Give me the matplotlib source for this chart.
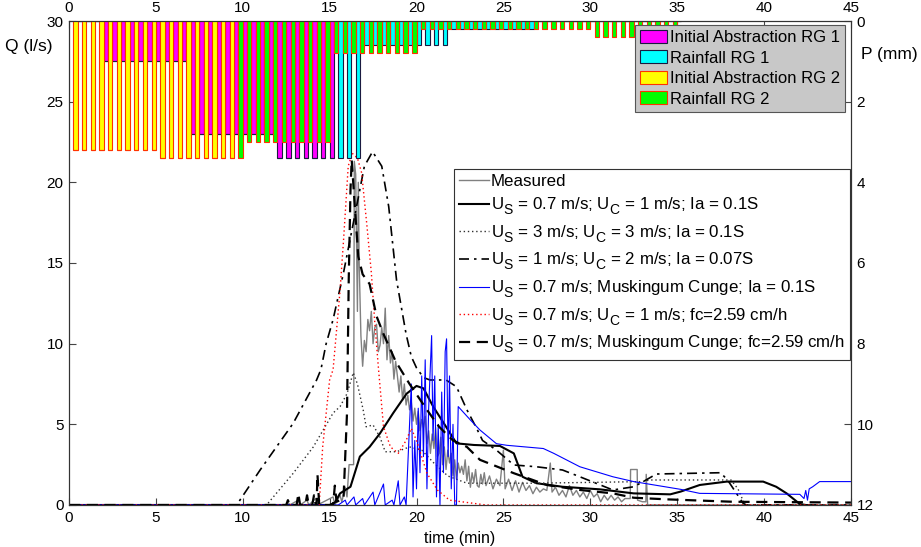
import numpy as np
import matplotlib
matplotlib.use("Agg")
import matplotlib.pyplot as plt
import matplotlib._mathtext as mtext

plt.rcParams['font.family'] = 'Liberation Sans'
plt.rcParams['mathtext.fontset'] = 'custom'
plt.rcParams['mathtext.rm'] = 'Liberation Sans'
plt.rcParams['mathtext.it'] = 'Liberation Sans'
# bigger, lower subscripts like the original
try:
    mtext.SHRINK_FACTOR = 0.82
    mtext.FontConstantsBase.sub1 = 0.6
except Exception:
    pass

# ---- rainfall (P, mm) per 0.5 min step, two rain gauges ----
step_end = np.arange(0.5, 35.5, 0.5)   # 70 steps
ia_rg1 = [0, 0, 0, 1.0, 1.0, 1.0, 1.0, 1.0, 1.0, 1.0,
          1.0, 1.0, 1.0, 2.8, 2.8, 2.8, 2.8, 2.8, 2.8, 2.8,
          2.8, 2.8, 2.8, 3.4, 3.4, 3.4, 3.4, 3.4, 3.4, 3.4,
          0, 0, 0, 0, 0, 0, 0, 0, 0, 0,
          0, 0, 0, 0, 0, 0, 0, 0, 0, 0,
          0, 0, 0, 0, 0, 0, 0, 0, 0, 0,
          0, 0, 0, 0, 0, 0, 0, 0, 0, 0]
rain_rg1 = [0, 0, 0, 0, 0, 0, 0, 0, 0, 0,
            0, 0, 0, 0, 0, 0, 0, 0, 0, 0,
            0, 0, 0, 0, 0, 0, 0, 0, 0, 0,
            3.4, 3.4, 3.4, 0.6, 0.6, 0.6, 0.6, 0.6, 0.6, 0.6,
            0.6, 0.6, 0.6, 0.2, 0.2, 0.2, 0.2, 0.2, 0.2, 0.2,
            0.2, 0.2, 0.2, 0, 0, 0, 0, 0, 0, 0,
            0, 0, 0, 0, 0, 0, 0, 0, 0, 0]
ia_rg2 = [3.2, 3.2, 3.2, 3.2, 3.2, 3.2, 3.2, 3.2, 3.2, 3.2,
          3.4, 3.4, 3.4, 3.4, 3.4, 3.4, 3.4, 3.4, 3.4, 0,
          0, 0, 0, 0, 0, 0, 0, 0, 0, 0,
          0, 0, 0, 0, 0, 0, 0, 0, 0, 0,
          0, 0, 0, 0, 0, 0, 0, 0, 0, 0,
          0, 0, 0, 0, 0, 0, 0, 0, 0, 0,
          0, 0, 0, 0, 0, 0, 0, 0, 0, 0]
rain_rg2 = [0, 0, 0, 0, 0, 0, 0, 0, 0, 0,
            0, 0, 0, 0, 0, 0, 0, 0, 0, 3.4,
            3.0, 3.0, 3.0, 3.0, 3.0, 3.0, 3.0, 3.0, 3.0, 3.0,
            0.8, 0.8, 0.8, 0.8, 0.8, 0.8, 0.8, 0.8, 0.8, 0.8,
            0.2, 0.2, 0.2, 0.2, 0.2, 0.2, 0.2, 0.2, 0.2, 0.2,
            0.2, 0.2, 0.2, 0.2, 0.2, 0.2, 0.2, 0.2, 0.2, 0.2,
            0.4, 0.4, 0.4, 0.4, 0.4, 0.4, 0.4, 0.4, 0.4, 0.4]

# ---- discharge (Q, l/s) ----
t_meas = [0, 12.5, 12.6, 12.7, 13.2, 13.3, 13.7, 13.8, 14.2, 14.3, 15.2, 15.3, 15.6, 15.7,
          15.9, 16.0, 16.12, 16.38, 16.42, 16.5, 16.6, 16.65, 16.7, 16.8, 16.9, 17.0,
          17.1, 17.2, 17.3, 17.4, 17.5, 17.6, 17.7, 17.8, 17.9, 18.0, 18.1, 18.2, 18.3,
          18.4, 18.5, 18.6, 18.7, 18.8, 18.9, 19.0, 19.1, 19.2, 19.3, 19.4, 19.5, 19.6,
          19.7, 19.8, 19.9, 20.0, 20.1, 20.2, 20.3, 20.4, 20.5, 20.6, 20.7, 20.8, 20.9,
          21.0, 21.1, 21.2, 21.3, 21.4, 21.5, 21.6, 21.7, 21.8, 21.9, 22.0, 22.1, 22.2,
          22.3, 22.4, 22.5, 22.6, 22.7, 22.8, 22.9, 23.0, 23.1, 23.2, 23.3, 23.4, 23.5,
          23.6, 23.7, 23.8, 23.9, 24.0, 24.2, 24.4, 24.6, 24.8, 25.0, 25.1, 25.3, 25.5,
          25.7, 25.9, 26.1, 26.3, 26.5, 26.7, 26.9, 27.1, 27.3, 27.5, 27.7, 27.8, 28.0,
          28.2, 28.4, 28.6, 28.8, 29.0, 29.2, 29.4, 29.6, 29.8, 30.0, 30.2, 30.4, 30.6,
          30.8, 31.0, 31.2, 31.4, 31.6, 31.8, 32.0, 32.3, 32.32, 32.7, 32.72, 33.0, 33.2,
          33.22, 33.3, 45]
q_meas = [0, 0, 0.2, 0, 0.3, 0, 0.3, 0, 0.4, 0, 0.5, 0, 0.6, 0.2,
          1.1, 0.5, 2.5, 2.5, 21.3, 20.5, 12.0, 20.0, 15.0, 10.5, 8.6, 10.2,
          9.5, 11.5, 10.8, 12.0, 10.0, 11.0, 11.2, 9.5, 9.9, 11.0, 10.0, 12.2, 9.0,
          10.5, 8.8, 9.5, 7.8, 8.9, 8.0, 7.0, 8.0, 6.5, 7.5, 6.2, 6.8, 5.9,
          6.4, 5.2, 6.0, 5.0, 5.8, 4.6, 5.3, 4.8, 5.5, 3.8, 4.6, 3.2, 4.4,
          3.5, 4.8, 3.0, 3.2, 4.2, 2.5, 3.6, 2.2, 3.4, 2.6, 3.2, 1.8, 2.8,
          1.6, 2.6, 2.0, 2.4, 1.9, 2.8, 1.5, 2.4, 1.1, 2.0, 1.4, 2.2, 1.2,
          1.1, 1.9, 1.3, 2.0, 1.2, 1.8, 1.0, 1.6, 1.2, 3.4, 1.0, 1.6, 0.9,
          1.5, 0.8, 1.4, 0.9, 1.2, 0.7, 1.1, 0.8, 1.0, 0.9, 2.6, 0.8, 1.1,
          0.6, 0.9, 0.5, 1.2, 0.6, 0.9, 0.5, 0.8, 0.4, 0.9, 0.5, 0.7, 0.2,
          0.6, 0.3, 0.6, 0.3, 0.5, 0.2, 0.4, 0.4, 2.2, 2.2, 0.3, 0.2, 0.2,
          1.9, 0, 0]

t_s1 = [0, 15.0, 15.3, 15.6, 16.2, 16.74, 17.3, 17.9, 18.66, 19.43, 20.0, 20.4, 20.96,
        21.7, 22.3, 23.3, 24.8, 25.6, 26.1, 26.9, 28.4, 30.55, 32.5, 34.6, 35.2, 36.3,
        37.85, 39.95, 40.7, 41.3, 42.06, 42.4]
q_s1 = [0, 0, 0.15, 0.72, 1.13, 3.0, 3.6, 4.44, 5.7, 6.9, 7.38, 7.23, 6.1,
        4.85, 3.82, 3.72, 3.66, 3.2, 1.75, 1.35, 1.13, 0.97, 0.72, 0.66, 0.83, 1.24,
        1.45, 1.45, 1.13, 0.72, 0.06, 0]

t_s2 = [0, 11.37, 12.9, 14.06, 15.2, 15.6, 16.0, 16.36, 16.6, 16.93, 17.1, 17.5, 17.9,
        18.2, 18.85, 19.6, 20.3, 21.0, 21.8, 22.9, 24.0, 26.7, 30.0, 33.0, 33.4, 38.1,
        38.5, 38.9, 45]
q_s2 = [0, 0, 1.96, 3.6, 5.7, 6.1, 6.9, 8.2, 7.5, 5.9, 4.85, 4.96, 4.2,
        3.3, 3.3, 3.6, 3.4, 2.6, 1.8, 1.35, 1.35, 1.35, 1.4, 1.45, 1.55, 1.55,
        1.0, 0, 0]

t_s3 = [0, 9.65, 11.0, 12.9, 14.25, 14.5, 14.8, 15.2, 15.8, 16.55, 17.0, 17.47, 18.0,
        18.4, 18.85, 19.4, 19.7, 20.0, 20.4, 20.77, 21.7, 22.3, 22.9, 23.46, 23.8, 24.6,
        25.6, 26.9, 28.4, 29.4, 31.3, 32.5, 33.05, 33.8, 37.5, 37.9, 38.8, 39.0, 45]
q_s3 = [0, 0, 2.17, 5.06, 7.75, 8.4, 10.0, 11.5, 14.4, 18.5, 21.0, 21.9, 21.0,
        18.5, 13.95, 10.6, 9.2, 8.5, 7.9, 7.75, 7.75, 7.33, 5.9, 4.75, 4.0, 3.4,
        2.48, 2.37, 2.17, 1.75, 0.93, 1.13, 1.45, 1.92, 2.0, 1.55, 0.1, 0, 0]

t_s4 = [0, 15.5, 15.9, 16.0, 16.4, 16.5, 16.9, 17.0, 17.5, 17.6, 18.1, 18.2, 18.6, 18.7,
        18.95, 19.05, 19.3, 19.4, 19.7, 19.8, 19.9, 20.0, 20.1, 20.2, 20.3, 20.4, 20.5,
        20.6, 20.7, 20.87, 20.95, 21.05, 21.15, 21.25, 21.35, 21.45, 21.55, 21.65, 21.73,
        21.82, 21.9, 22.0, 22.1, 22.2, 22.3, 22.4, 23.1, 23.65, 24.6, 25.2, 27.3, 27.9,
        29.4, 31.3, 32.5, 35.2, 36.3, 42.06, 42.3, 42.4, 42.5, 42.6, 42.8, 43.2, 45]
q_s4 = [0, 0, 0.3, 0, 0.5, 0, 0.4, 0, 0.8, 0, 1.3, 0, 0.3, 0,
        1.5, 0, 0.5, 0, 7.5, 0.5, 4.0, 1.0, 6.0, 2.0, 8.0, 3.0, 9.0,
        1.0, 6.0, 10.5, 4.0, 8.0, 0.5, 5.0, 0.0, 7.0, 2.0, 9.5, 10.3,
        3.0, 8.0, 1.0, 5.0, 0.0, 0.0, 6.1, 5.27, 4.65, 3.8, 3.7, 3.5, 3.2,
        2.37, 1.75, 1.45, 0.97, 0.72, 0.66, 0.4, 0.9, 0.3, 1.0, 1.13, 1.45, 1.45]

t_s5 = [0, 14.4, 14.6, 15.0, 15.2, 15.6, 15.8, 16.07, 16.3, 16.6, 16.84, 17.13, 17.4,
        17.6, 17.8, 18.1, 18.5, 18.95, 19.4, 19.7, 20.0, 20.6, 21.2, 21.9, 23.3, 24.0, 45]
q_s5 = [0, 0, 3.6, 7.75, 8.4, 13.3, 16.4, 21.0, 21.8, 21.5, 20.6, 17.5, 14.4,
        11.3, 8.6, 4.85, 3.6, 3.2, 4.0, 4.75, 4.0, 1.97, 0.93, 0.3, 0.1, 0, 0]

t_s6 = [0, 12.5, 12.6, 12.7, 13.1, 13.2, 13.3, 13.6, 13.7, 13.8, 14.0, 14.1, 14.2, 14.25,
        14.3, 14.4, 15.2, 15.3, 15.4, 15.8, 16.0, 16.1, 16.2, 16.27, 16.45, 16.65, 16.9,
        17.3, 17.7, 18.1, 18.8, 19.6, 20.6, 21.3, 22.1, 22.9, 23.65, 25.6, 27.5, 29.4,
        31.3, 32.5, 34.4, 38.2, 45]
q_s6 = [0, 0, 0.3, 0, 0, 0.7, 0, 0, 0.6, 0, 0, 0.6, 0, 0,
        1.9, 0, 0, 1.2, 0.2, 0.4, 5.7, 14.0, 19.5, 21.4, 18.5, 15.4, 14.3,
        13.7, 11.7, 10.6, 8.9, 7.5, 5.9, 4.85, 4.0, 3.6, 2.8, 1.97, 1.24, 0.93,
        0.72, 0.45, 0.35, 0.2, 0.15]

fig = plt.figure(figsize=(9.21, 5.47), dpi=100)
ax = fig.add_axes([0.0749, 0.0768, 0.849, 0.8848])

h_meas, = ax.plot(t_meas, q_meas, color='#808080', lw=1.0, label='Measured')
h1, = ax.plot(t_s1, q_s1, color='k', lw=1.5,
              label=r'U$_\mathrm{S}$ = 0.7 m/s; U$_\mathrm{C}$ = 1 m/s; Ia = 0.1S')
h2, = ax.plot(t_s2, q_s2, color='#303030', lw=1.0, ls=(0, (1, 2)),
              label=r'U$_\mathrm{S}$ = 3 m/s; U$_\mathrm{C}$ = 3 m/s; Ia = 0.1S')
h3, = ax.plot(t_s3, q_s3, color='k', lw=1.2, ls=(0, (6, 3, 1.5, 3)),
              label=r'U$_\mathrm{S}$ = 1 m/s; U$_\mathrm{C}$ = 2 m/s; Ia = 0.07S')
h4, = ax.plot(t_s4, q_s4, color='#0000ff', lw=0.8,
              label=r'U$_\mathrm{S}$ = 0.7 m/s; Muskingum Cunge; Ia = 0.1S')
h5, = ax.plot(t_s5, q_s5, color='#ff0000', lw=1.0, ls=(0, (1, 2)),
              label=r'U$_\mathrm{S}$ = 0.7 m/s; U$_\mathrm{C}$ = 1 m/s; fc=2.59 cm/h')
h6, = ax.plot(t_s6, q_s6, color='k', lw=1.6, ls=(0, (5, 3)),
              label=r'U$_\mathrm{S}$ = 0.7 m/s; Muskingum Cunge; fc=2.59 cm/h')

ax.set_xlim(0, 45)
ax.set_ylim(0, 30)
ax.set_xticks(range(0, 50, 5))
ax.set_yticks(range(0, 35, 5))
ax.tick_params(direction='in', length=5, labelsize=11, top=True, labeltop=True,
               color='#444444', pad=4)
ax.set_xlabel('time (min)', fontsize=11.5, labelpad=5)
ax.set_ylabel('Q (l/s)', fontsize=12.5, rotation=0, ha='center', va='center')
ax.yaxis.set_label_coords(-0.052, 0.948)

ax2 = ax.twinx()
ax2.set_ylim(12, 0)
ax2.set_yticks(range(0, 14, 2))
ax2.tick_params(direction='in', length=5, labelsize=11, color='#444444', pad=4)
ax2.set_ylabel('P (mm)', fontsize=12.5, rotation=0, ha='center', va='center')
ax2.yaxis.set_label_coords(1.049, 0.93)

x_rg2 = step_end - 0.125
x_rg1 = step_end + 0.125
bw = 0.25
b1 = ax2.bar(x_rg1, ia_rg1, bw, color='#ff00ff', edgecolor='#1a1a40', lw=0.8,
             label='Initial Abstraction RG 1')
b2 = ax2.bar(x_rg1, rain_rg1, bw, bottom=ia_rg1, color='#00ffff', edgecolor='#1a1a40',
             lw=0.8, label='Rainfall RG 1')
b3 = ax2.bar(x_rg2, ia_rg2, bw, color='#ffff00', edgecolor='#ff3300', lw=0.8,
             label='Initial Abstraction RG 2')
b4 = ax2.bar(x_rg2, rain_rg2, bw, bottom=ia_rg2, color='#00ff00', edgecolor='#ff3300',
             lw=0.8, label='Rainfall RG 2')

for s in list(ax.spines.values()) + list(ax2.spines.values()):
    s.set_color('#333333')
    s.set_linewidth(0.8)

leg1 = ax2.legend(handles=[b1, b2, b3, b4], loc='upper right',
                  bbox_to_anchor=(0.992, 0.992), fontsize=12, fancybox=False,
                  facecolor='#c8c8c8', edgecolor='#555555', framealpha=1,
                  handlelength=1.65, handleheight=0.8, handletextpad=0.15,
                  labelspacing=0.32, borderpad=0.3, borderaxespad=0)
leg1.get_frame().set_linewidth(0.8)
ax2.add_artist(leg1)
leg2 = ax2.legend(handles=[h_meas, h1, h2, h3, h4, h5, h6], loc='upper right',
                  bbox_to_anchor=(0.9987, 0.694), fontsize=12.2, fancybox=False,
                  facecolor='white', edgecolor='#333333', framealpha=1,
                  handlelength=1.75, handletextpad=0.15, labelspacing=0.37,
                  borderpad=0.3, borderaxespad=0)
leg2.get_frame().set_linewidth(0.8)

fig.savefig('out.png', dpi=100)
